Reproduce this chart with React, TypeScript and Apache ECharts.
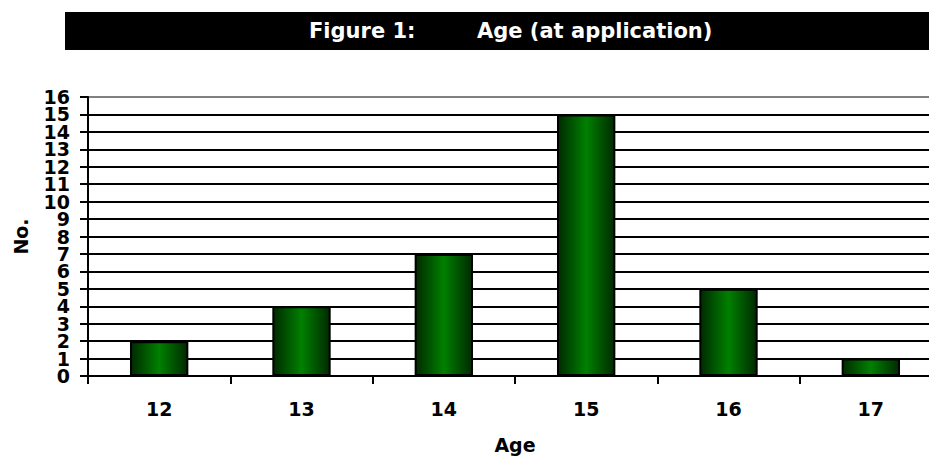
import React, { useEffect, useRef } from "react";
import * as echarts from "echarts";

// Applicant counts by age
const ages = ["12", "13", "14", "15", "16", "17"];
const counts = [2, 4, 7, 15, 5, 1];
const yTicks = Array.from({ length: 17 }, (_, i) => i); // 0..16

const FONT = "'DejaVu Sans', Verdana, sans-serif";

export default function App() {
  const ref = useRef<HTMLDivElement>(null);

  useEffect(() => {
    if (!ref.current) return;
    const chart = echarts.init(ref.current, null, { renderer: "svg" });
    const yMax = yTicks[yTicks.length - 1];

    const labelBase = {
      fontSize: 19,
      fontWeight: "bold",
      color: "#000",
      margin: 18,
      hideOverlap: false,
    };

    chart.setOption({
      animation: false,
      backgroundColor: "#ffffff",
      textStyle: { fontFamily: FONT },
      graphic: [
        {
          type: "rect",
          shape: { x: 65, y: 12, width: 960, height: 38 },
          style: { fill: "#000000" },
          silent: true,
        },
        {
          type: "text",
          x: 309,
          y: 31,
          style: {
            text: "Figure 1:",
            fill: "#ffffff",
            font: `bold 21px ${FONT}`,
            textVerticalAlign: "middle",
          },
        },
        {
          type: "text",
          x: 477,
          y: 31,
          style: {
            text: "Age (at application)",
            fill: "#ffffff",
            font: `bold 21px ${FONT}`,
            textVerticalAlign: "middle",
          },
        },
      ],
      grid: { left: 88, top: 97, right: 18, bottom: 80, containLabel: false },
      xAxis: {
        type: "category",
        data: ages,
        boundaryGap: true,
        name: "Age",
        nameLocation: "middle",
        nameGap: 59,
        nameTextStyle: { fontSize: 19, fontWeight: "bold", color: "#000" },
        axisLine: { show: true, lineStyle: { color: "#000", width: 2 } },
        axisTick: { show: true, length: 8, alignWithLabel: false, lineStyle: { color: "#000", width: 2 } },
        axisLabel: { fontSize: 19, fontWeight: "bold", color: "#000", margin: 23 },
        splitLine: { show: false },
      },
      yAxis: [
        {
          // main axis: line, ticks, gridlines and the even labels
          type: "value",
          position: "left",
          min: 0,
          max: yMax,
          interval: 1,
          name: "No.",
          nameLocation: "middle",
          nameGap: 58,
          nameRotate: 90,
          nameTextStyle: { fontSize: 19, fontWeight: "bold", color: "#000" },
          axisLine: { show: true, lineStyle: { color: "#000", width: 2 } },
          axisTick: { show: true, length: 8, inside: false, lineStyle: { color: "#000", width: 2 } },
          axisLabel: {
            ...labelBase,
            showMinLabel: true,
            showMaxLabel: true,
            formatter: (v: number) => (v % 2 === 0 ? String(v) : ""),
          },
          splitLine: {
            show: true,
            lineStyle: {
              color: yTicks.map((v) => (v === yMax ? "#808080" : "#000000")),
              width: 2,
            },
          },
        },
        {
          // companion axis on the same scale carrying the odd labels
          type: "value",
          position: "left",
          min: 0,
          max: yMax,
          interval: 1,
          axisLine: { show: false },
          axisTick: { show: false },
          splitLine: { show: false },
          axisLabel: {
            ...labelBase,
            showMinLabel: false,
            showMaxLabel: false,
            formatter: (v: number) => (v % 2 === 1 ? String(v) : ""),
          },
        },
      ],
      series: [
        {
          type: "bar",
          yAxisIndex: 0,
          data: counts,
          barWidth: "41%",
          itemStyle: {
            color: new echarts.graphic.LinearGradient(0, 0, 1, 0, [
              { offset: 0, color: "#002a00" },
              { offset: 0.5, color: "#008000" },
              { offset: 1, color: "#002a00" },
            ]),
            borderColor: "#000000",
            borderWidth: 2,
          },
        },
      ],
    });

    return () => chart.dispose();
  }, []);

  return (
    <div
      style={{
        position: "absolute",
        left: 0,
        top: 0,
        width: 929,
        height: 459,
        overflow: "hidden",
        background: "#ffffff",
      }}
    >
      <div ref={ref} style={{ width: 960, height: 459 }} />
    </div>
  );
}
